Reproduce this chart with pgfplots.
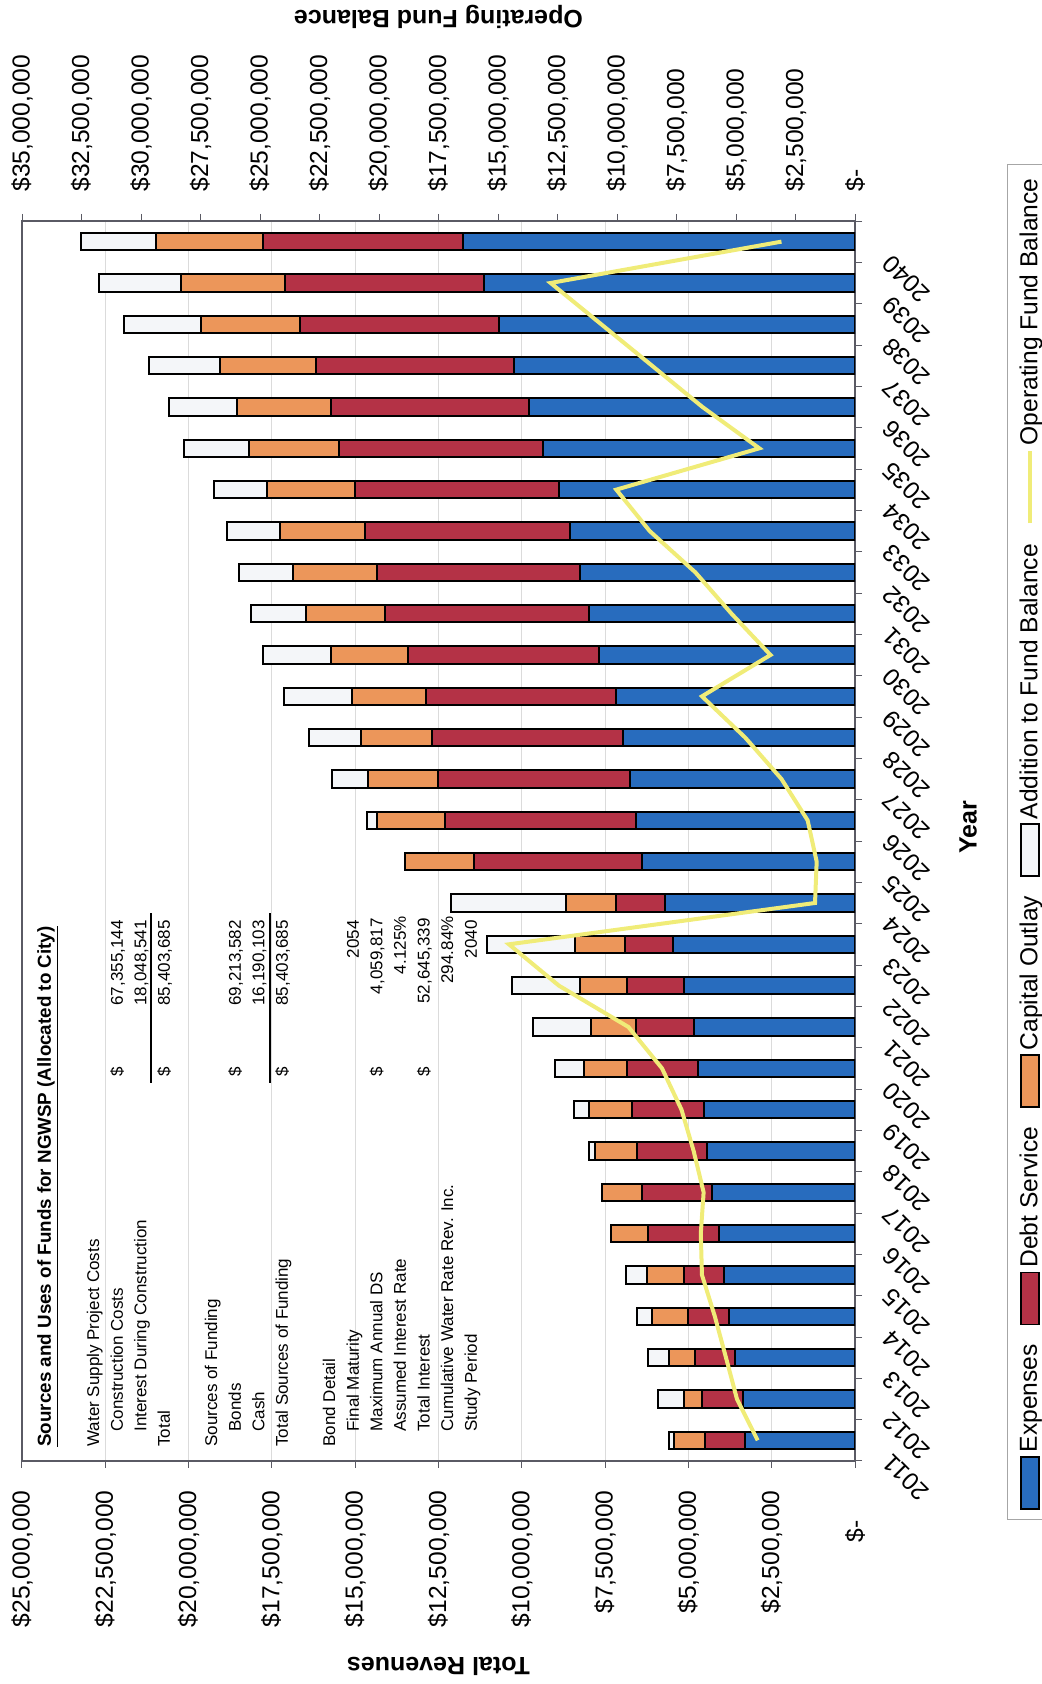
\documentclass[border=0pt]{standalone}
\usepackage{fontspec}
\setmainfont{Liberation Sans}
\usepackage{pgfplots}
\usepackage{pgfplotstable}
\pgfplotsset{compat=1.18}

\definecolor{cExp}{RGB}{40,108,190}
\definecolor{cDebt}{RGB}{180,50,70}
\definecolor{cCap}{RGB}{236,150,90}
\definecolor{cAdd}{RGB}{244,246,249}
\definecolor{cFund}{RGB}{240,236,120}
\definecolor{cAxis}{RGB}{90,90,100}

\newcommand{\fA}{\fontsize{12.3}{14}\selectfont}
\newcommand{\fB}{\fontsize{12.5}{14}\selectfont\bfseries}
\newcommand{\fT}{\fontsize{8.5}{10}\selectfont}
\newcommand{\fTB}{\fontsize{9.4}{11}\selectfont\bfseries}

% values in millions of dollars
\pgfplotstableread{
year exp debt cap add fund
2011 3.29 1.20 0.94 0.15 4.09
2012 3.37 1.22 0.53 0.78 4.96
2013 3.59 1.20 0.80 0.62 5.42
2014 3.79 1.22 1.07 0.47 5.89
2015 3.92 1.20 1.12 0.63 6.43
2016 4.09 2.12 1.12 0.00 6.48
2017 4.29 2.09 1.22 0.00 6.36
2018 4.43 2.12 1.25 0.18 6.78
2019 4.54 2.14 1.29 0.45 7.29
2020 4.71 2.14 1.29 0.87 8.11
2021 4.84 1.74 1.34 1.75 9.52
2022 5.13 1.72 1.40 2.05 12.44
2023 5.46 1.45 1.50 2.62 14.54
2024 5.71 1.45 1.50 3.47 1.68
2025 6.38 5.06 2.07 0.00 1.61
2026 6.58 5.73 2.04 0.30 1.99
2027 6.75 5.76 2.10 1.09 3.09
2028 6.96 5.73 2.15 1.55 4.61
2029 7.16 5.73 2.22 2.04 6.43
2030 7.68 5.74 2.30 2.05 3.55
2031 7.97 6.13 2.39 1.64 5.19
2032 8.25 6.11 2.51 1.62 6.71
2033 8.55 6.15 2.56 1.60 8.63
2034 8.88 6.13 2.64 1.59 10.03
2035 9.35 6.13 2.72 1.95 4.02
2036 9.77 5.96 2.81 2.04 6.41
2037 10.22 5.96 2.89 2.12 8.53
2038 10.67 5.98 2.97 2.32 10.66
2039 11.14 5.98 3.12 2.45 12.79
2040 11.77 6.00 3.22 2.25 3.09
}\chartdata

\begin{document}
\begin{tikzpicture}
\path[use as bounding box] (-521pt,0pt) rectangle (0pt,842pt);
\begin{scope}[transform canvas={rotate=90}]
\begin{axis}[
  at={(111.5pt,93.5pt)}, anchor=south west,
  scale only axis, width=620pt, height=416.5pt,
  xmin=2010.5, xmax=2040.5, ymin=0, ymax=25,
  ybar stacked, bar width=0.42,
  xtick={2010.5,2011.5,...,2040.5},
  xticklabels={},
  extra x ticks={2011,2012,2013,2014,2015,2016,2017,2018,2019,2020,2021,2022,2023,2024,2025,2026,2027,2028,2029,2030,2031,2032,2033,2034,2035,2036,2037,2038,2039,2040},
  extra x tick labels={2011,2012,2013,2014,2015,2016,2017,2018,2019,2020,2021,2022,2023,2024,2025,2026,2027,2028,2029,2030,2031,2032,2033,2034,2035,2036,2037,2038,2039,2040},
  extra x tick style={major tick length=0pt, tick style={draw=none}},
  xtick pos=left, ytick pos=left,
  tick align=outside,
  major tick length=3.5pt,
  ytick={0,2.5,5,7.5,10,12.5,15,17.5,20,22.5,25},
  yticklabels={{\$-\hspace*{15pt}},{\$2,500,000},{\$5,000,000},{\$7,500,000},{\$10,000,000},{\$12,500,000},{\$15,000,000},{\$17,500,000},{\$20,000,000},{\$22,500,000},{\$25,000,000}},
  ymajorgrids, major grid style={gray!28, line width=0.4pt},
  xticklabel style={xshift=-9pt, yshift=-16pt, rotate=45, anchor=east, inner sep=0pt, font=\fA},
  yticklabel style={font=\fA, inner sep=0pt, anchor=east, xshift=-11pt},
  axis line style={cAxis, line width=0.6pt},
  tick style={cAxis, line width=0.5pt},
  xlabel={Year}, ylabel={Total Revenues},
  every axis x label/.style={at={(axis description cs:0.511,-0.1357)}, anchor=center, font=\fB},
  every axis y label/.style={at={(axis description cs:-0.166,0.5)}, rotate=90, anchor=center, font=\fB},
]
\addplot[fill=cExp, draw=black, line width=1pt] table[x=year,y=exp]{\chartdata};
\addplot[fill=cDebt, draw=black, line width=1pt] table[x=year,y=debt]{\chartdata};
\addplot[fill=cCap, draw=black, line width=1pt] table[x=year,y=cap]{\chartdata};
\addplot[fill=cAdd, draw=black, line width=1pt] table[x=year,y=add]{\chartdata};
\end{axis}
\begin{axis}[
  at={(111.5pt,93.5pt)}, anchor=south west,
  scale only axis, width=620pt, height=416.5pt,
  xmin=2010.5, xmax=2040.5, ymin=0, ymax=35,
  axis x line=none, axis y line*=right,
  tick align=outside, major tick length=3.5pt,
  ytick={0,2.5,5,7.5,10,12.5,15,17.5,20,22.5,25,27.5,30,32.5,35},
  yticklabels={{\$-},{\$2,500,000},{\$5,000,000},{\$7,500,000},{\$10,000,000},{\$12,500,000},{\$15,000,000},{\$17,500,000},{\$20,000,000},{\$22,500,000},{\$25,000,000},{\$27,500,000},{\$30,000,000},{\$32,500,000},{\$35,000,000}},
  yticklabel style={font=\fA, inner sep=0pt, anchor=west, xshift=11pt},
  axis line style={cAxis, line width=0.6pt},
  tick style={cAxis, line width=0.5pt},
  ylabel={Operating Fund Balance},
  every axis y label/.style={at={(axis description cs:1.1645,0.5)}, rotate=90, anchor=center, font=\fB},
  legend style={at={(axis description cs:0.499,-0.1825)}, anchor=north, legend columns=-1,
    draw=gray!70, line width=0.5pt, font=\fA, inner xsep=5pt, inner ysep=4pt,
    /tikz/every even column/.append style={column sep=7.5pt}},
  legend cell align=left,
]
\addlegendimage{legend image code/.code={\draw[fill=cExp, draw=black, line width=0.8pt] (0pt,-4.5pt) rectangle (26pt,4.5pt);}}
\addlegendentry{Expenses}
\addlegendimage{legend image code/.code={\draw[fill=cDebt, draw=black, line width=0.8pt] (0pt,-4.5pt) rectangle (26pt,4.5pt);}}
\addlegendentry{Debt Service}
\addlegendimage{legend image code/.code={\draw[fill=cCap, draw=black, line width=0.8pt] (0pt,-4.5pt) rectangle (26pt,4.5pt);}}
\addlegendentry{Capital Outlay}
\addlegendimage{legend image code/.code={\draw[fill=cAdd, draw=black, line width=0.8pt] (0pt,-4.5pt) rectangle (26pt,4.5pt);}}
\addlegendentry{Addition to Fund Balance}
\addplot[cFund, line width=2pt, mark=none, legend image code/.code={\draw[cFund, line width=2pt] (0pt,0pt) -- (36pt,0pt);}] table[x=year,y=fund]{\chartdata};
\addlegendentry{Operating Fund Balance}
\end{axis}
% summary table placed inside the plot area (u along the width, t down from the top, 1 unit = 0.5pt)
\begin{scope}[shift={(0pt,521pt)}, x=0.5pt, y=-0.5pt]
\node[anchor=base west, font=\fTB, inner sep=0pt] at (237,51) {\underline{Sources and Uses of Funds for NGWSP (Allocated to City)}};
\node[anchor=base west, font=\fT, inner sep=0pt] at (237,99.2) {Water Supply Project Costs};
\node[anchor=base west, font=\fT, inner sep=0pt] at (252,122.8) {Construction Costs};
\node[anchor=base west, font=\fT, inner sep=0pt] at (252,146.4) {Interest During Construction};
\node[anchor=base west, font=\fT, inner sep=0pt] at (237,170) {Total};
\node[anchor=base west, font=\fT, inner sep=0pt] at (237,217.2) {Sources of Funding};
\node[anchor=base west, font=\fT, inner sep=0pt] at (252,240.8) {Bonds};
\node[anchor=base west, font=\fT, inner sep=0pt] at (252,264.4) {Cash};
\node[anchor=base west, font=\fT, inner sep=0pt] at (237,288) {Total Sources of Funding};
\node[anchor=base west, font=\fT, inner sep=0pt] at (237,335.2) {Bond Detail};
\node[anchor=base west, font=\fT, inner sep=0pt] at (252,358.8) {Final Maturity};
\node[anchor=base west, font=\fT, inner sep=0pt] at (252,382.4) {Maximum Annual DS};
\node[anchor=base west, font=\fT, inner sep=0pt] at (252,406) {Assumed Interest Rate};
\node[anchor=base west, font=\fT, inner sep=0pt] at (252,429.6) {Total Interest};
\node[anchor=base west, font=\fT, inner sep=0pt] at (252,453.2) {Cumulative Water Rate Rev. Inc.};
\node[anchor=base west, font=\fT, inner sep=0pt] at (252,476.8) {Study Period};
% dollar signs
\foreach \t in {122.8,170,240.8,288,382.4,429.6}
  \node[anchor=base west, font=\fT, inner sep=0pt] at (607,\t) {\$};
% amounts
\node[anchor=base east, font=\fT, inner sep=0pt] at (764,122.8) {67,355,144};
\node[anchor=base east, font=\fT, inner sep=0pt] at (764,146.4) {18,048,541};
\node[anchor=base east, font=\fT, inner sep=0pt] at (764,170) {85,403,685};
\node[anchor=base east, font=\fT, inner sep=0pt] at (764,240.8) {69,213,582};
\node[anchor=base east, font=\fT, inner sep=0pt] at (764,264.4) {16,190,103};
\node[anchor=base east, font=\fT, inner sep=0pt] at (764,288) {85,403,685};
\node[anchor=base east, font=\fT, inner sep=0pt] at (764,358.8) {2054};
\node[anchor=base east, font=\fT, inner sep=0pt] at (766,382.4) {4,059,817};
\node[anchor=base east, font=\fT, inner sep=0pt] at (768,406) {4.125\%};
\node[anchor=base east, font=\fT, inner sep=0pt] at (766,429.6) {52,645,339};
\node[anchor=base east, font=\fT, inner sep=0pt] at (768,453.2) {294.84\%};
\node[anchor=base east, font=\fT, inner sep=0pt] at (764,476.8) {2040};
\draw[line width=0.8pt] (601,151) -- (771,151);
\draw[line width=0.8pt] (601,270) -- (771,270);
\end{scope}
\end{scope}
\end{tikzpicture}
\end{document}
